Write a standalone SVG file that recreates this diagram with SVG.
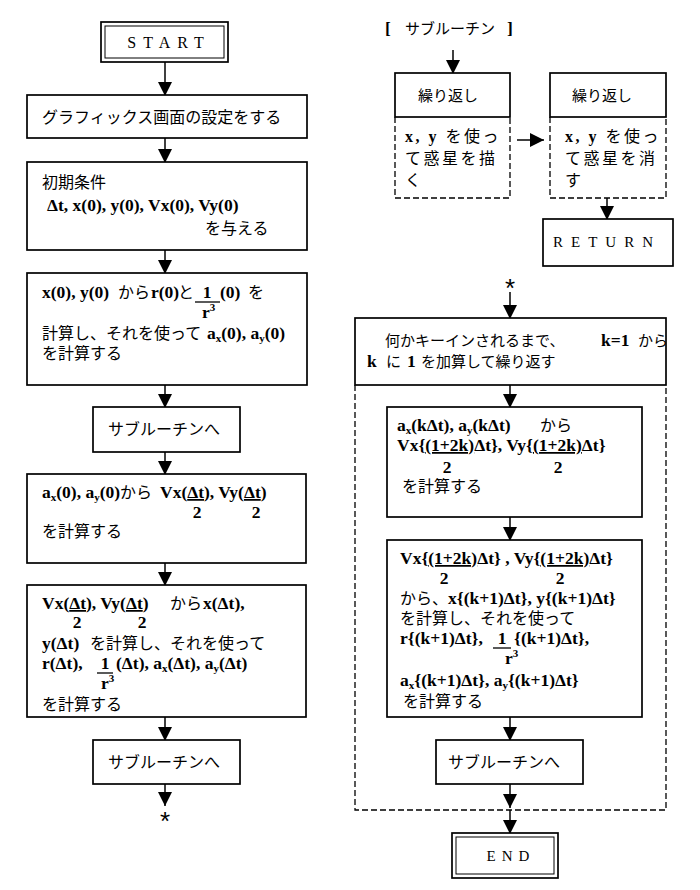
<svg xmlns="http://www.w3.org/2000/svg" width="700" height="890" viewBox="0 0 700 890">
<defs>
<style>
.box{fill:#fff;stroke:#000;stroke-width:1.7}
.in{fill:none;stroke:#000;stroke-width:1}
.dash{fill:none;stroke:#000;stroke-width:1.3;stroke-dasharray:6 3}
.c{fill:none;stroke:#000;stroke-width:1.5}
.ul{stroke:#000;stroke-width:1.3}
text{font-family:"Liberation Serif","Noto Sans CJK JP",serif;font-size:16px;fill:#000}
.j{font-size:16px}
.j15{font-size:15px}
.b{font-weight:bold;font-size:17.5px}
.s{font-size:11px;font-weight:bold}
.u{text-decoration:underline}
.lbl{font-size:15px;letter-spacing:6px}
.ast{font-family:"Liberation Sans",sans-serif;font-size:26px}
</style>
<marker id="ah" markerUnits="userSpaceOnUse" viewBox="0 0 14 14" refX="14" refY="7" markerWidth="14" markerHeight="14" orient="auto">
<path d="M0,0 L14,7 L0,14 z" fill="#000"/>
</marker>
</defs>
<rect width="700" height="890" fill="#fff"/>

<g id="connectors">
<line class="c" x1="165" y1="62" x2="165" y2="96" marker-end="url(#ah)"/>
<line class="c" x1="165" y1="138" x2="165" y2="163" marker-end="url(#ah)"/>
<line class="c" x1="165" y1="250" x2="165" y2="274" marker-end="url(#ah)"/>
<line class="c" x1="165" y1="385" x2="165" y2="408" marker-end="url(#ah)"/>
<line class="c" x1="165" y1="452" x2="165" y2="475" marker-end="url(#ah)"/>
<line class="c" x1="165" y1="563" x2="165" y2="586" marker-end="url(#ah)"/>
<line class="c" x1="165" y1="717" x2="165" y2="741" marker-end="url(#ah)"/>
<line class="c" x1="165" y1="784" x2="165" y2="806" marker-end="url(#ah)"/>
<line class="c" x1="453" y1="50" x2="453" y2="74" marker-end="url(#ah)"/>
<line class="c" x1="517" y1="140" x2="544" y2="140" marker-end="url(#ah)"/>
<line class="c" x1="607" y1="198" x2="607" y2="220" marker-end="url(#ah)"/>
<line class="c" x1="510" y1="292" x2="510" y2="319" marker-end="url(#ah)"/>
<line class="c" x1="510" y1="385" x2="510" y2="408" marker-end="url(#ah)"/>
<line class="c" x1="510" y1="517" x2="510" y2="541" marker-end="url(#ah)"/>
<line class="c" x1="510" y1="717" x2="510" y2="741" marker-end="url(#ah)"/>
<line class="c" x1="510" y1="784" x2="510" y2="808" marker-end="url(#ah)"/>
<line class="c" x1="510" y1="810" x2="510" y2="834" marker-end="url(#ah)"/>
</g>

<g id="start">
<rect class="box" x="101" y="22" width="127" height="40" stroke-width="2"/>
<rect class="in" x="105" y="26" width="119" height="32"/>
<text class="lbl" x="169" y="48" text-anchor="middle" style="font-size:16px;letter-spacing:7px">START</text>
</g>

<g id="graphics">
<rect class="box" x="27" y="95" width="280" height="43"/>
<text class="j" x="42" y="123">グラフィックス画面の設定をする</text>
</g>

<g id="init">
<rect class="box" x="27" y="162" width="280" height="88"/>
<text class="j" x="42" y="188">初期条件</text>
<text class="b" x="47" y="211">Δt, x(0), y(0), Vx(0), Vy(0)</text>
<text class="j" x="205" y="234">を与える</text>
</g>

<g id="calc0">
<rect class="box" x="27" y="273" width="280" height="112"/>
<text x="42" y="298"><tspan class="b">x(0), y(0)</tspan><tspan class="j" x="118">から</tspan><tspan class="b" x="151">r(0)</tspan><tspan class="j" x="178">と</tspan><tspan class="b" x="207" text-anchor="middle">1</tspan><tspan class="b" x="220">(0)</tspan><tspan class="j" x="248">を</tspan></text>
<line class="ul" x1="195" y1="302" x2="220" y2="302"/>
<text x="202" y="318"><tspan class="b">r</tspan><tspan class="s" dy="-7">3</tspan></text>
<text x="42" y="339"><tspan class="j">計算し、それを使って</tspan><tspan class="b" x="207">a</tspan><tspan class="s" dy="3">x</tspan><tspan class="b" dy="-3">(0), a</tspan><tspan class="s" dy="3">y</tspan><tspan class="b" dy="-3">(0)</tspan></text>
<text class="j" x="42" y="359">を計算する</text>
</g>

<g id="sub1">
<rect class="box" x="93" y="407" width="147" height="45"/>
<text class="j" x="108" y="435">サブルーチンへ</text>
</g>

<g id="halfv">
<rect class="box" x="27" y="474" width="279" height="89"/>
<text x="42" y="498"><tspan class="b">a</tspan><tspan class="s" dy="3">x</tspan><tspan class="b" dy="-3">(0), a</tspan><tspan class="s" dy="3">y</tspan><tspan class="b" dy="-3">(0)</tspan><tspan class="j">から</tspan><tspan class="b" x="160">Vx(</tspan><tspan class="b u">Δt</tspan><tspan class="b">), Vy(</tspan><tspan class="b u">Δt</tspan><tspan class="b">)</tspan></text>
<text class="b" x="197" y="518" text-anchor="middle">2</text>
<text class="b" x="256" y="518" text-anchor="middle">2</text>
<text class="j" x="42" y="537">を計算する</text>
</g>

<g id="step1">
<rect class="box" x="27" y="585" width="279" height="132"/>
<text x="42" y="609"><tspan class="b">Vx(</tspan><tspan class="b u">Δt</tspan><tspan class="b">), Vy(</tspan><tspan class="b u">Δt</tspan><tspan class="b">)</tspan><tspan class="j" x="170">から</tspan><tspan class="b" x="203">x(Δt),</tspan></text>
<text class="b" x="77" y="628" text-anchor="middle">2</text>
<text class="b" x="142" y="628" text-anchor="middle">2</text>
<text x="42" y="649"><tspan class="b">y(Δt)</tspan><tspan class="j" x="90">を計算し、それを使って</tspan></text>
<text x="42" y="669"><tspan class="b">r(Δt),</tspan><tspan class="b" x="105" text-anchor="middle">1</tspan><tspan class="b" x="116">(Δt), a</tspan><tspan class="s" dy="3">x</tspan><tspan class="b" dy="-3">(Δt), a</tspan><tspan class="s" dy="3">y</tspan><tspan class="b" dy="-3">(Δt)</tspan></text>
<line class="ul" x1="97" y1="673" x2="113" y2="673"/>
<text x="101" y="689"><tspan class="b">r</tspan><tspan class="s" dy="-7">3</tspan></text>
<text class="j" x="42" y="710">を計算する</text>
</g>

<g id="sub2">
<rect class="box" x="93" y="740" width="147" height="44"/>
<text class="j" x="108" y="768">サブルーチンへ</text>
</g>

<g id="star1">
<text class="ast" x="165" y="830" text-anchor="middle">*</text>
</g>

<g id="subtitle">
<text class="j15" x="385" y="34"><tspan class="b">[</tspan><tspan x="405">サブルーチン</tspan><tspan class="b" x="507">]</tspan></text>
</g>

<g id="drawloop">
<rect class="box" x="395" y="73" width="115" height="44"/>
<path class="dash" d="M395,117 V198 H510 V117"/>
<text class="j15" x="418" y="101">繰り返し</text>
<text x="405" y="142" letter-spacing="2.5"><tspan class="b" style="font-size:16px">x, y</tspan><tspan class="j"> を使っ</tspan></text>
<text class="j" x="405" y="164" letter-spacing="2.5">て惑星を描</text>
<text class="j" x="405" y="186">く</text>
</g>

<g id="eraseloop">
<rect class="box" x="550" y="73" width="116" height="44"/>
<path class="dash" d="M550,117 V198 H666 V117"/>
<text class="j15" x="572" y="101">繰り返し</text>
<text x="565" y="142" letter-spacing="2.5"><tspan class="b" style="font-size:16px">x, y</tspan><tspan class="j"> を使っ</tspan></text>
<text class="j" x="565" y="164" letter-spacing="2.5">て惑星を消</text>
<text class="j" x="565" y="186">す</text>
</g>

<g id="return">
<rect class="box" x="543" y="219" width="130" height="47"/>
<text class="lbl" x="607" y="247" text-anchor="middle" style="letter-spacing:8px">RETURN</text>
</g>

<g id="star2">
<text class="ast" x="510" y="297" text-anchor="middle">*</text>
</g>

<g id="loop">
<rect class="box" x="355" y="318" width="311" height="67"/>
<text x="385" y="346"><tspan class="j15">何かキーインされるまで、</tspan><tspan class="b" x="601">k=1</tspan><tspan class="j15" x="638">から</tspan></text>
<text x="367" y="367"><tspan class="b">k</tspan><tspan class="j15" x="386">に</tspan><tspan class="b" x="407">1</tspan><tspan class="j15" x="421">を加算して繰り返す</tspan></text>
<path class="dash" d="M355,385 V810 H666 V385"/>
</g>

<g id="halfk">
<rect class="box" x="387" y="407" width="255" height="110"/>
<text x="397" y="431"><tspan class="b">a</tspan><tspan class="s" dy="3">x</tspan><tspan class="b" dy="-3">(kΔt), a</tspan><tspan class="s" dy="3">y</tspan><tspan class="b" dy="-3">(kΔt)</tspan><tspan class="j" x="540">から</tspan></text>
<text x="397" y="451"><tspan class="b">Vx{</tspan><tspan class="b u">(1+2k)</tspan><tspan class="b">Δt}, Vy{</tspan><tspan class="b u">(1+2k)</tspan><tspan class="b">Δt}</tspan></text>
<text class="b" x="447" y="473" text-anchor="middle">2</text>
<text class="b" x="558" y="473" text-anchor="middle">2</text>
<text class="j" x="402" y="492">を計算する</text>
</g>

<g id="stepk">
<rect class="box" x="387" y="540" width="255" height="177"/>
<text x="400" y="564"><tspan class="b">Vx{</tspan><tspan class="b u">(1+2k)</tspan><tspan class="b">Δt} , Vy{</tspan><tspan class="b u">(1+2k)</tspan><tspan class="b">Δt}</tspan></text>
<text class="b" x="444" y="584" text-anchor="middle">2</text>
<text class="b" x="560" y="584" text-anchor="middle">2</text>
<text x="400" y="604"><tspan class="j">から、</tspan><tspan class="b" x="448">x{(k+1)Δt}, y{(k+1)Δt}</tspan></text>
<text class="j" x="400" y="624">を計算し、それを使って</text>
<text x="400" y="644"><tspan class="b">r{(k+1)Δt},</tspan><tspan class="b" x="502" text-anchor="middle">1</tspan><tspan class="b" x="514">{(k+1)Δt},</tspan></text>
<line class="ul" x1="493" y1="648" x2="511" y2="648"/>
<text x="505" y="664"><tspan class="b">r</tspan><tspan class="s" dy="-7">3</tspan></text>
<text x="400" y="686"><tspan class="b">a</tspan><tspan class="s" dy="3">x</tspan><tspan class="b" dy="-3">{(k+1)Δt}, a</tspan><tspan class="s" dy="3">y</tspan><tspan class="b" dy="-3">{(k+1)Δt}</tspan></text>
<text class="j" x="403" y="707">を計算する</text>
</g>

<g id="sub3">
<rect class="box" x="436" y="740" width="147" height="44"/>
<text class="j" x="448" y="768">サブルーチンへ</text>
</g>

<g id="end">
<rect class="box" x="452" y="833" width="106" height="45" stroke-width="2"/>
<rect class="in" x="456" y="837" width="98" height="37"/>
<text class="lbl" x="511" y="861" text-anchor="middle">END</text>
</g>
</svg>
